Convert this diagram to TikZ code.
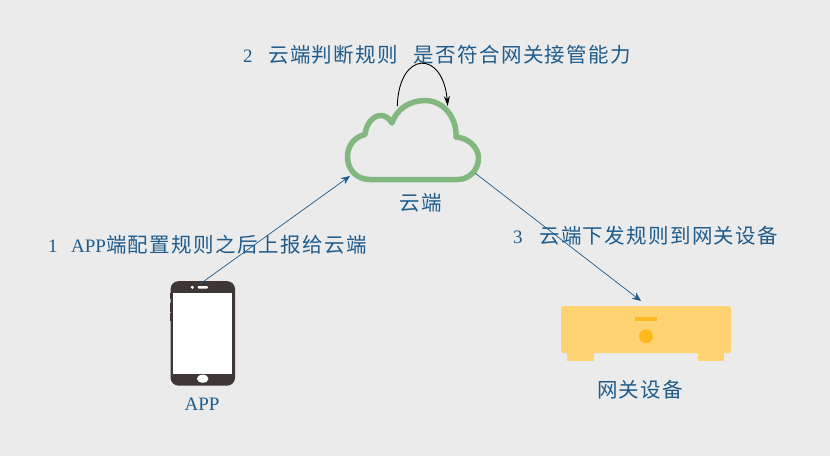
\documentclass[tikz,border=0pt]{standalone}
\usepackage{fontspec}
\setmainfont{Liberation Serif}
\newfontfamily\cjk[LetterSpace=6.5]{Noto Sans CJK SC}
\newcommand{\cn}[1]{{\fontsize{20.5}{23}\selectfont\cjk #1}}
\usetikzlibrary{arrows.meta}
\definecolor{bgcolor}{HTML}{EBEBEB}
\definecolor{textblue}{HTML}{1F5C8B}
\definecolor{cloudgreen}{HTML}{82B77F}
\definecolor{phonedark}{HTML}{3E3535}
\definecolor{boxyellow}{HTML}{FFD372}
\definecolor{boxorange}{HTML}{FFB91F}
\tikzset{
    label text/.style={text=textblue, inner sep=0pt, font=\fontsize{19}{23}\selectfont},
    step arrow/.style={draw=textblue, line width=0.7pt, -{Stealth[length=9pt,width=7.5pt]}},
    self arrow/.style={draw=black, line width=0.9pt, -{Stealth[length=10pt,width=6pt]}},
    yellow part/.style={fill=boxyellow, draw=none, inner sep=0pt},
    phone part/.style={fill=phonedark, draw=none, inner sep=0pt},
    white part/.style={fill=white, draw=none, inner sep=0pt},
}
\begin{document}
\begin{tikzpicture}[x=1pt, y=-1pt]
    \fill[bgcolor] (0,0) rectangle (830,456);
    \useasboundingbox (0,0) rectangle (830,456);

    % 云
    \draw[cloudgreen, line width=5.5pt, line join=round] (370,179.5)
        .. controls (357,179.5) and (347.5,170) .. (347.5,157)
        .. controls (347.5,146) and (354,137) .. (365,134.5)
        .. controls (366,124) and (373,115.5) .. (381,115.5)
        .. controls (385,115.5) and (389,118) .. (392,123)
        .. controls (397,108) and (411,100.5) .. (425,100.5)
        .. controls (443,100.5) and (457,117) .. (456,137)
        .. controls (469,138) and (478.5,148) .. (478.5,158)
        .. controls (478.5,171) and (468,179.5) .. (458,179.5)
        -- cycle;
    \node[label text, anchor=center] (cloudname) at (421,203) {\cn{云端}};
    \coordinate (cloudin) at (350,176);
    \coordinate (cloudout) at (475,173);
    \coordinate (loopstart) at (397.3,106);
    \coordinate (loopend) at (447.7,106);

    % 手机
    \node[phone part, rounded corners=8pt, minimum width=64.5pt, minimum height=104.5pt] (phone) at (202.8,333.4) {};
    \fill[phonedark] (169.7,293) rectangle (171,299);
    \fill[phonedark] (169.7,303) rectangle (171,312);
    \fill[phonedark] (169.7,313) rectangle (171,321);
    \node[white part, minimum width=59.4pt, minimum height=81pt] (screen) at (202.7,333.5) {};
    \node[white part, rounded corners=1pt, minimum width=10.5pt, minimum height=2.4pt] (speaker) at (202.8,287.3) {};
    \node[white part, circle, minimum size=3.4pt] (sensor) at (192.3,287.3) {};
    \fill[white] (202.7,378.7) ellipse (5.8 and 4);
    \node[label text, anchor=center] (phonename) at (202,404) {APP};
    \coordinate (phoneout) at (200,284);

    % 网关设备
    \node[yellow part, minimum width=27pt, minimum height=12pt] (footleft) at (580.5,355) {};
    \node[yellow part, minimum width=26pt, minimum height=12pt] (footright) at (711,355) {};
    \node[yellow part, rounded corners=2.5pt, minimum width=170pt, minimum height=47pt] (gateway) at (646,329.5) {};
    \node[fill=boxorange, inner sep=0pt, minimum width=22pt, minimum height=3.7pt] (gatewaybar) at (646,318.8) {};
    \node[fill=boxorange, circle, inner sep=0pt, minimum size=14pt] (gatewaylight) at (646,336.3) {};
    \node[label text, anchor=center] (gatewayname) at (640,390) {\cn{网关设备}};
    \coordinate (gatewayin) at (641,301);

    % 步骤
    \node[label text, anchor=west] (stepone) at (48,245) {1\hspace{13.5pt}APP\cn{端配置规则之后上报给云端}};
    \node[label text, anchor=west] (steptwo) at (243,55) {2\hspace{15.5pt}\cn{云端判断规则}\hspace{16pt}\cn{是否符合网关接管能力}};
    \node[label text, anchor=west] (stepthree) at (513,236) {3\hspace{16.5pt}\cn{云端下发规则到网关设备}};

    \draw[step arrow] (phoneout) -- (cloudin);
    \draw[step arrow] (cloudout) -- (gatewayin);
    \draw[self arrow] (loopstart) .. controls (399,50) and (443,50) .. (loopend);
\end{tikzpicture}
\end{document}
